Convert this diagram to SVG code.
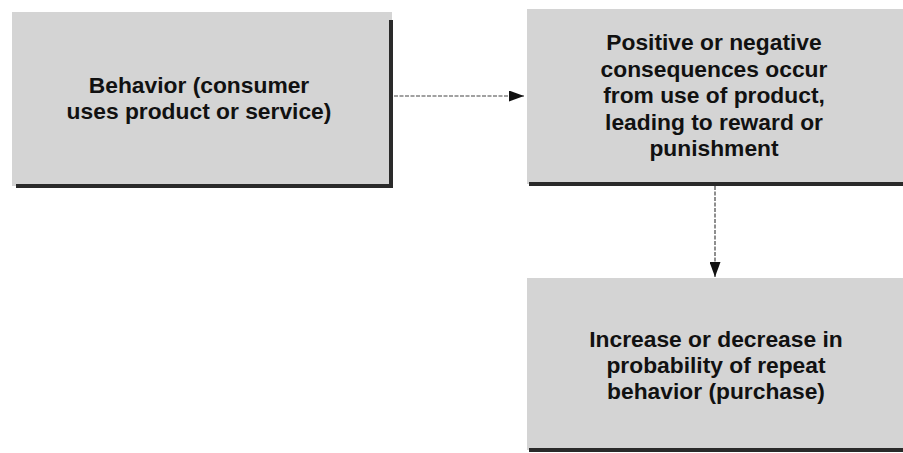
<svg xmlns="http://www.w3.org/2000/svg" width="903" height="453" viewBox="0 0 903 453">
  <defs>
    <style>
      .box { fill: #d4d4d4; }
      .edge { stroke: #2a2a2a; stroke-width: 4; fill: none; }
      .label { font-family: "Liberation Sans", Arial, sans-serif; font-weight: 700; font-size: 22.8px; fill: #111; text-anchor: middle; }
      .link { stroke: #444; stroke-width: 1.2; stroke-dasharray: 4 1.5; fill: none; }
    </style>
    <marker id="arrow" markerWidth="15" markerHeight="11" refX="15" refY="5.5" orient="auto" markerUnits="userSpaceOnUse">
      <path d="M0,0 L15,5.5 L0,11 Z" fill="#111"/>
    </marker>
  </defs>

  <rect width="903" height="453" fill="#ffffff"/>

  <g id="behavior">
    <rect class="box" x="12" y="12" width="380" height="174"/>
    <path class="edge" d="M391,20 V186 H16"/>
    <text class="label" x="199" y="93">Behavior (consumer</text>
    <text class="label" x="199" y="119">uses product or service)</text>
  </g>

  <g id="consequences">
    <rect class="box" x="527" y="9" width="376" height="175"/>
    <path class="edge" d="M529,184 H903"/>
    <text class="label" x="714" y="50">Positive or negative</text>
    <text class="label" x="714" y="76.5">consequences occur</text>
    <text class="label" x="714" y="103">from use of product,</text>
    <text class="label" x="714" y="129.5">leading to reward or</text>
    <text class="label" x="714" y="156">punishment</text>
  </g>

  <g id="repeat">
    <rect class="box" x="527" y="278" width="376" height="172"/>
    <path class="edge" d="M529,450 H903"/>
    <text class="label" x="716" y="347">Increase or decrease in</text>
    <text class="label" x="716" y="373">probability of repeat</text>
    <text class="label" x="716" y="399">behavior (purchase)</text>
  </g>

  <g id="connectors">
    <path class="link" d="M394,96 H524" marker-end="url(#arrow)"/>
    <path class="link" d="M715,186 V277" marker-end="url(#arrow)"/>
  </g>
</svg>
